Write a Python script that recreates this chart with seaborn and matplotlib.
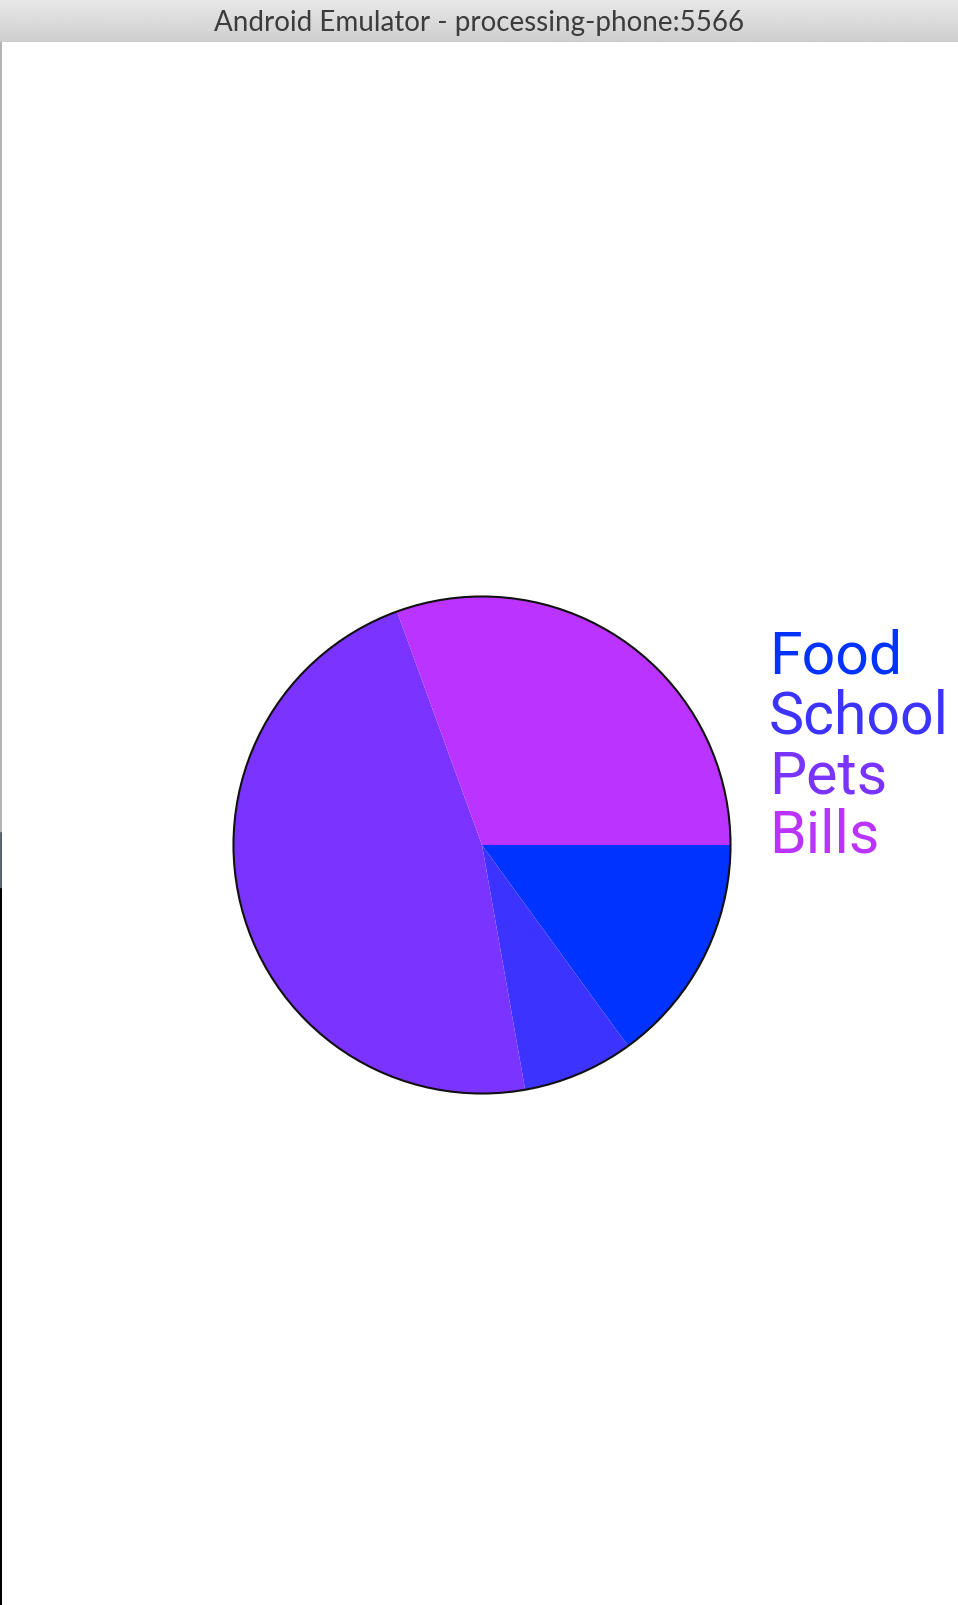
import numpy as np
import matplotlib.pyplot as plt
import seaborn as sns

# Pie data (slice sizes, in degrees)
categories = ['Food', 'School', 'Pets', 'Bills']
values = [54, 26, 170, 110]
slice_colors = ['#0033ff', '#3d33ff', '#7b33ff', '#bb33ff']
window_title = 'Android Emulator - processing-phone:5566'

sns.set_theme(style='white')
plt.rcParams['font.family'] = ['Roboto', 'DejaVu Sans']

W, H = 958, 1606
fig = plt.figure(figsize=(W / 100, H / 100), dpi=100)
fig.patch.set_facecolor('white')

# title bar of the emulator window
bar_h = 43
tb = fig.add_axes([0, 1 - bar_h / H, 1, bar_h / H])
grad = np.linspace(0.91, 0.81, 50).reshape(-1, 1)
tb.imshow(grad, cmap='gray', vmin=0, vmax=1, aspect='auto', extent=[0, 1, 0, 1])
tb.axhline(0.01, color='#b8b8b8', lw=1)
tb.text(0.5, 0.46, window_title, ha='center', va='center', fontsize=20,
        color='#3c3c3c', family=['Lato', 'DejaVu Sans'])
tb.set_xlim(0, 1)
tb.set_ylim(0, 1)
tb.axis('off')

# thin left window border
lb = fig.add_axes([0, 0, 2 / W, 1 - bar_h / H])
lb.axvspan(0, 1, ymin=0, ymax=(H - 888) / (H - bar_h), color='black')
lb.axvspan(0, 1, ymin=(H - 888) / (H - bar_h), ymax=(H - 832) / (H - bar_h), color='#5a6470')
lb.axvspan(0, 1, ymin=(H - 832) / (H - bar_h), ymax=1, color='#b4b4b4')
lb.set_xlim(0, 1)
lb.set_ylim(0, 1)
lb.axis('off')

# the pie
cx, cy, r = 482, 846, 251
ax = fig.add_axes([(cx - r) / W, 1 - (cy + r) / H, 2 * r / W, 2 * r / H])
palette = sns.color_palette(slice_colors)
wedges, _ = ax.pie(values, colors=palette, startangle=0, counterclock=False,
                   radius=1, wedgeprops=dict(linewidth=0, antialiased=True))
outline = plt.Circle((0, 0), 1, fill=False, edgecolor='#111111', lw=1.5)
ax.add_patch(outline)
ax.set_xlim(-1.01, 1.01)
ax.set_ylim(-1.01, 1.01)
ax.set_aspect('auto')
ax.axis('off')

# coloured labels on the right
baselines = [674, 734, 794, 853]
for name, col, yb in zip(categories, palette, baselines):
    fig.text(769 / W, 1 - yb / H, name, color=col, fontsize=42.5,
             ha='left', va='baseline', family=['Roboto', 'DejaVu Sans'])

fig.savefig('out.png', dpi=100)
